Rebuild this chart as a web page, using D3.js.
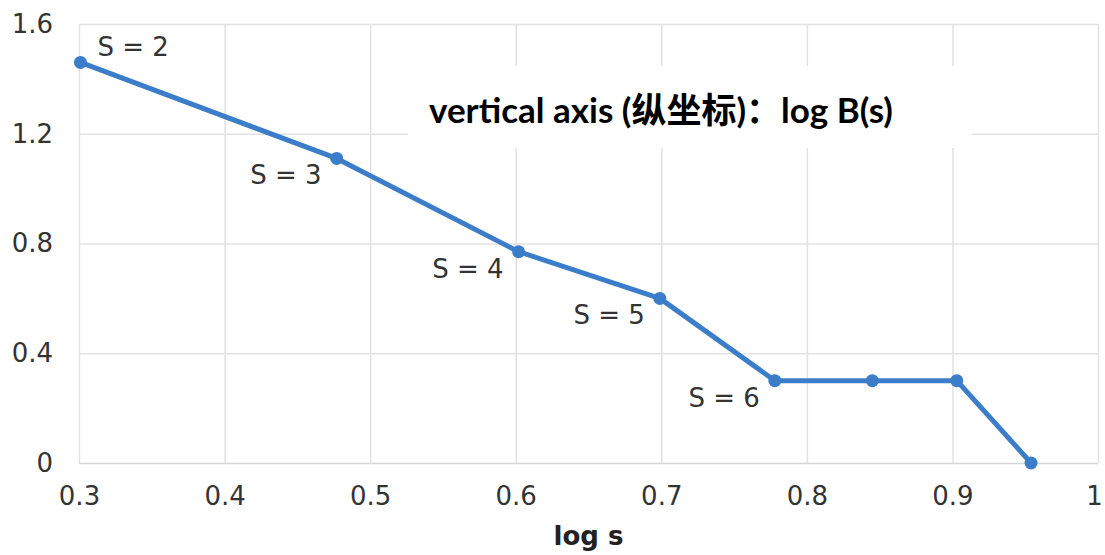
<!DOCTYPE html>
<html>
<head>
<meta charset="utf-8">
<script src="https://cdn.jsdelivr.net/npm/d3@7"></script>
<style>
  body{margin:0;background:#fff;}
  svg{display:block;}
</style>
</head>
<body>
<script>
// values
const logS=[0.301,0.477,0.602,0.699,0.778,0.845,0.903,0.954];
const logB=[1.46,1.11,0.77,0.60,0.30,0.30,0.30,0];
const pointLabels=["S = 2","S = 3","S = 4","S = 5","S = 6",null,null,null];
const xTicks=[0.3,0.4,0.5,0.6,0.7,0.8,0.9,1];
const xTickLabels=["0.3","0.4","0.5","0.6","0.7","0.8","0.9","1"];
const yTicks=[0,0.4,0.8,1.2,1.6];
const yTickLabels=["0","0.4","0.8","1.2","1.6"];
const xTitle="log s";
const noteText="vertical axis (纵坐标)：log B(s)";

const width=1105,height=555;
const margin={top:24,right:7,bottom:92,left:79};

const svg=d3.select("body").append("svg")
  .attr("width",width)
  .attr("height",height);

const xScale=d3.scaleLinear().domain([0.3,1]).range([margin.left,width-margin.right]);
const yScale=d3.scaleLinear().domain([0,1.6]).range([height-margin.bottom,margin.top]);

const tickFont="'DejaVu Sans', Verdana, sans-serif";

// x grid + labels
const xAxis=svg.append("g")
  .attr("transform","translate(0,"+(height-margin.bottom)+")")
  .call(d3.axisBottom(xScale)
    .tickValues(xTicks)
    .tickFormat((d,i)=>xTickLabels[i])
    .tickSize(-(height-margin.bottom-margin.top))
    .tickPadding(24));
xAxis.select(".domain").remove();
xAxis.selectAll(".tick line").attr("stroke","#e2e2e2").attr("stroke-width",1.5);
xAxis.selectAll(".tick text")
  .attr("font-family",tickFont).attr("font-size",26).attr("fill","#333");
// last label sits right at the edge
xAxis.selectAll(".tick").filter(d=>d===1).select("text").attr("dx",-4);

// y grid + labels
const yAxis=svg.append("g")
  .attr("transform","translate("+margin.left+",0)")
  .call(d3.axisLeft(yScale)
    .tickValues(yTicks)
    .tickFormat((d,i)=>yTickLabels[i])
    .tickSize(-(width-margin.right-margin.left))
    .tickPadding(26));
yAxis.select(".domain").remove();
yAxis.selectAll(".tick line").attr("stroke","#e2e2e2").attr("stroke-width",1.5);
yAxis.selectAll(".tick text")
  .attr("font-family",tickFont).attr("font-size",26).attr("fill","#333");
// bottom baseline a bit darker
yAxis.selectAll(".tick").filter(d=>d===0).select("line").attr("stroke","#d6d6d6");

// x axis title
svg.append("text")
  .attr("x",(xScale.range()[0]+xScale.range()[1])/2)
  .attr("y",545)
  .attr("text-anchor","middle")
  .attr("font-family",tickFont)
  .attr("font-weight","bold")
  .attr("font-size",26)
  .attr("fill","#222")
  .text(xTitle);

// white box with note, pasted over the grid
svg.append("rect")
  .attr("x",408).attr("y",66)
  .attr("width",564).attr("height",82)
  .attr("fill","#fff");
svg.append("text")
  .attr("x",429).attr("y",123)
  .attr("font-family","Lato, 'Noto Sans CJK SC', sans-serif")
  .attr("font-weight","bold")
  .attr("font-size",35)
  .attr("fill","#000")
  .text(noteText);

// line + points
const pts=logS.map((x,i)=>({x:x,y:logB[i],label:pointLabels[i]}));
const line=d3.line().x(d=>xScale(d.x)).y(d=>yScale(d.y));
const blue="#3b7dc8";

svg.append("path")
  .datum(pts)
  .attr("fill","none")
  .attr("stroke",blue)
  .attr("stroke-width",5)
  .attr("stroke-linejoin","round")
  .attr("d",line);

svg.selectAll("circle.pt")
  .data(pts)
  .enter().append("circle")
  .attr("class","pt")
  .attr("cx",d=>xScale(d.x))
  .attr("cy",d=>yScale(d.y))
  .attr("r",6.5)
  .attr("fill",blue);

// point labels: first above-right, rest below-left
svg.selectAll("text.lbl")
  .data(pts.filter(d=>d.label))
  .enter().append("text")
  .attr("class","lbl")
  .attr("x",(d,i)=>i===0?xScale(d.x)+17:xScale(d.x)-15)
  .attr("y",(d,i)=>i===0?yScale(d.y)-6:yScale(d.y)+26)
  .attr("text-anchor",(d,i)=>i===0?"start":"end")
  .attr("font-family",tickFont)
  .attr("font-size",26)
  .attr("fill","#333")
  .text(d=>d.label);
</script>
</body>
</html>
